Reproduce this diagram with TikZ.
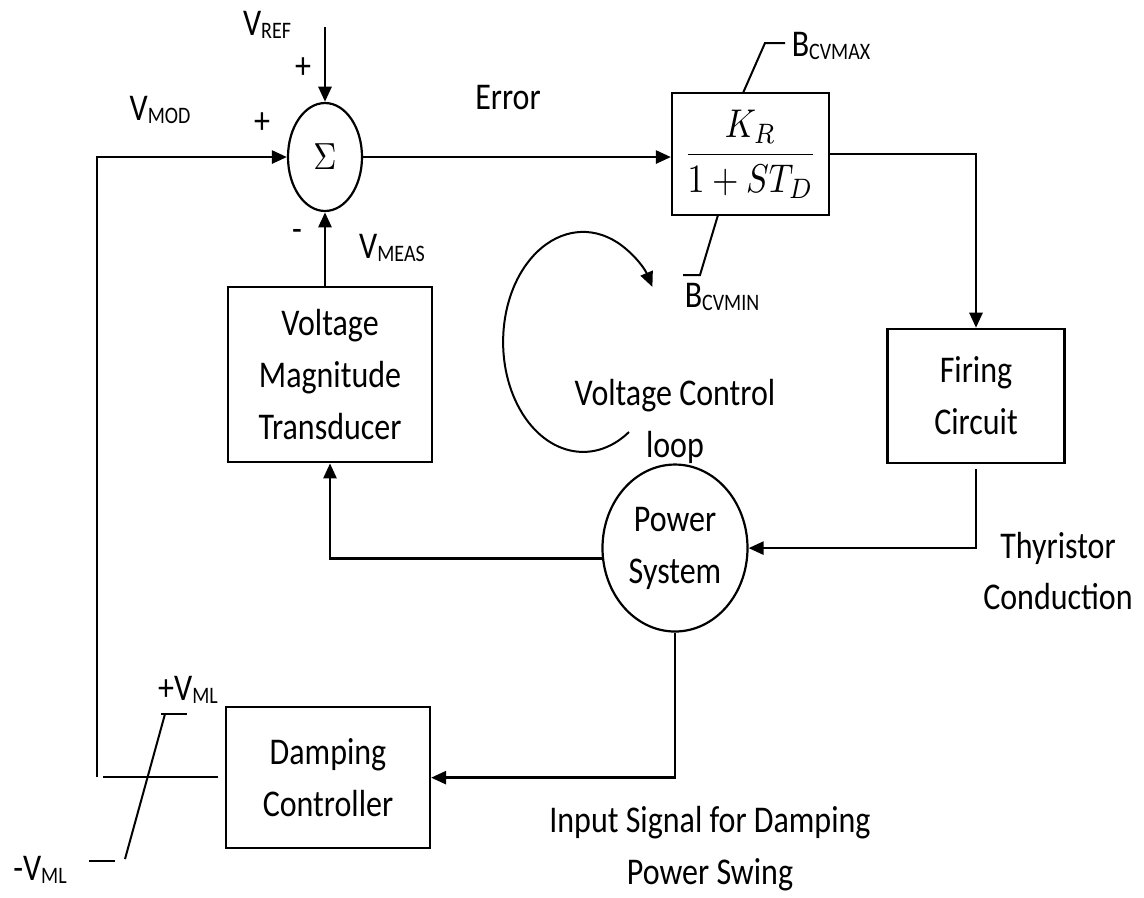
\documentclass[tikz,border=0pt]{standalone}
\usepackage{amsmath}
\usepackage{fontspec}
\setmainfont{Carlito}
\usepackage{tikz}
\usetikzlibrary{arrows.meta,shapes.geometric}
\newcommand{\subtxt}[1]{\raisebox{-3pt}{\fontsize{20}{20}\selectfont #1}}
\newcommand{\lblfont}{\fontsize{32}{44}\selectfont}
\tikzset{
  block/.style={draw, line width=2.2pt, align=center, transform shape,
    font=\lblfont, inner sep=0pt},
  sumnode/.style={ellipse, draw, line width=2.2pt, transform shape,
    minimum width=74pt, minimum height=91.5pt, inner sep=0pt},
  lbl/.style={align=center, transform shape, font=\lblfont, inner sep=0pt},
  flow/.style={-{Triangle[length=15pt,width=13pt]}, line width=2.6pt},
  wire/.style={line width=2.6pt},
  thinwire/.style={line width=2pt}
}
\begin{document}
\begin{tikzpicture}[x=1pt, y=-0.8475pt, yscale=1.18]
  \useasboundingbox (0,0) rectangle (1144,897);

  % blocks
  \node[sumnode] (sum) at (325,157) {\normalsize\scalebox{3.2}{$\Sigma$}};
  \node[block, minimum width=157pt, minimum height=103.4pt] (ctrl) at (750.5,154)
    {\normalsize\scalebox{3.4}{$\dfrac{K_R}{1+ST_D}$}};
  \node[block, minimum width=204pt, minimum height=148.3pt] (trans) at (330,374.5)
    {Voltage\\Magnitude\\Transducer};
  \node[block, minimum width=177pt, minimum height=113.6pt] (fire) at (976,396)
    {Firing\\Circuit};
  \node[block, ellipse, minimum width=145pt, minimum height=141.5pt] (pw) at (675,548)
    {Power\\System};
  \node[block, minimum width=204pt, minimum height=119.5pt] (damp) at (328,777.5)
    {Damping\\Controller};

  % free ends
  \coordinate (refin) at (325,27);
  \coordinate (dampout) at (218,777);
  \coordinate (limin) at (103,777);
  \coordinate (modbot) at (97,777);

  % signals
  \draw[flow] (refin) -- (sum.north);
  \draw[flow] (sum.east) -- (sum.east -| ctrl.west);
  \draw[flow] (ctrl.east) -| (fire.north);
  \draw[flow, shorten <=5pt] (fire.south) |- (pw.east);
  \draw[flow] (pw.187) -| (trans.south);
  \draw[flow] (trans.north -| sum) -- (sum.south);
  \draw[flow] (pw.south) |- (damp.east);
  \draw[wire] (dampout) -- (limin);
  \draw[flow] (modbot) |- (sum.west);

  % limiter and bounds
  \draw[thinwire] (89,861) -- (115,861);
  \draw[thinwire] (125,859) -- (165,714);
  \draw[thinwire] (161,714) -- (187,714);
  \draw[thinwire] (743,93) -- (765,43) -- (785,43);
  \draw[thinwire] (718,215) -- (700,275) -- (683,275);

  % loop arrow
  \draw[flow, line width=2pt] (629,432) arc[start angle=55, end angle=330, x radius=80, y radius=110];

  % labels
  \node[lbl] (vref) at (267,25) {V\subtxt{REF}};
  \node[lbl] (pref) at (303,68) {+};
  \node[lbl] (vmod) at (160,110) {V\subtxt{MOD}};
  \node[lbl] (pmod) at (262,123) {+};
  \node[lbl] (mmeas) at (297,235) {-};
  \node[lbl] (vmeas) at (392,248) {V\subtxt{MEAS}};
  \node[lbl] (err) at (508,98) {Error};
  \node[lbl] (bmax) at (831,46) {B\subtxt{CVMAX}};
  \node[lbl] (bmin) at (722,297) {B\subtxt{CVMIN}};
  \node[lbl] (vcl) at (675,421) {Voltage Control\\loop};
  \node[lbl] (thy) at (1058,571) {Thyristor\\Conduction};
  \node[lbl] (insig) at (710,849) {Input Signal for Damping\\Power Swing};
  \node[lbl] (vmlp) at (188,690) {+V\subtxt{ML}};
  \node[lbl] (vmln) at (40,870) {-V\subtxt{ML}};
\end{tikzpicture}
\end{document}
